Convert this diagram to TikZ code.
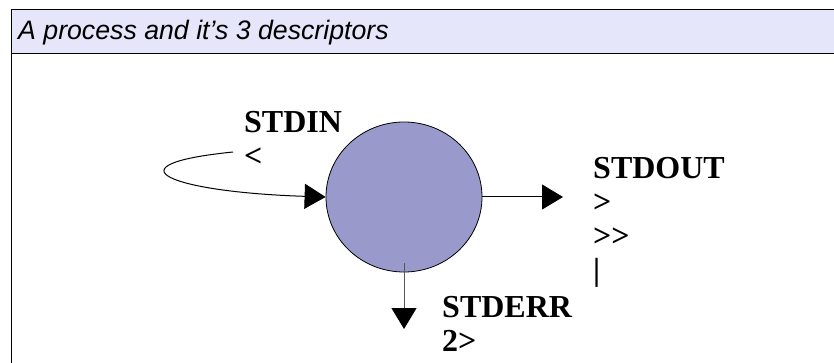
\documentclass[tikz,border=0pt]{standalone}
\usepackage{fontspec}
\setmainfont{Liberation Serif}
\setsansfont{Liberation Sans}
\usepackage{tikz}
\usetikzlibrary{arrows.meta,shapes.geometric}
\definecolor{headfill}{HTML}{E6E6FA}
\definecolor{procfill}{HTML}{9999CC}
\definecolor{errline}{HTML}{555555}

\begin{document}
\begin{tikzpicture}[x=1pt,y=-1pt]
    \tikzstyle{proc} = [ellipse, draw, fill=procfill, line width=0.8pt, minimum width=156pt, minimum height=150pt, inner sep=0pt]
    \tikzstyle{fd} = [anchor=base west, align=left, inner sep=0pt, font=\fontsize{32}{34}\selectfont\bfseries]
    \tikzstyle{flow} = [line width=1pt, -{Triangle[length=21pt,width=25pt,color=black]}]
    \useasboundingbox (0,0) rectangle (834,363);
    \clip (0,0) rectangle (834,363);
    \draw[line width=1.3pt, fill=headfill] (11.5,9.5) rectangle (850,53.5);
    \draw[line width=1.3pt] (11.5,53.5) -- (11.5,380);
    \node[anchor=base west, inner sep=0pt, font=\fontsize{26.7}{30}\selectfont\sffamily\itshape] (title) at (18,40) {A process and it’s 3 descriptors};
    \node[proc] (proc) at (404,197) {};
    \coordinate (inbeg) at (233,152);
    \coordinate (outend) at (563,197);
    \coordinate (errbeg) at (404,263);
    \coordinate (errend) at (404,329);
    \draw[flow] (inbeg) .. controls (105,165) and (170,192) .. (proc.west);
    \draw[flow] (proc.east) -- (outend);
    \draw[flow, errline] (errbeg) -- (errend);
    % base of a multi-line node is its last line
    \node[fd] (stdin) at (244,167) {STDIN\\<};
    \node[fd] (stdout) at (593,280) {STDOUT\\>\\>\kern0pt>\\|};
    \node[fd] (stderr) at (442,351) {STDERR\\2>};
\end{tikzpicture}
\end{document}
